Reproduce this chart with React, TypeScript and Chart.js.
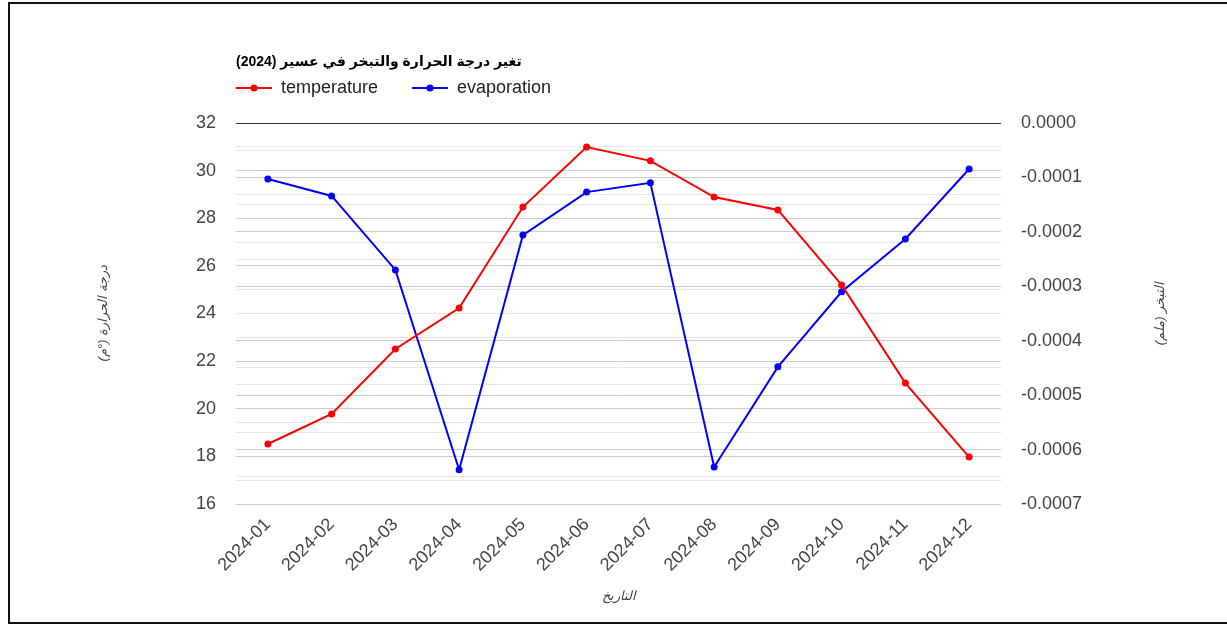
import React, { useEffect, useRef } from "react";
import { Chart, registerables } from "chart.js";

Chart.register(...registerables);

const months = [
  "2024-01", "2024-02", "2024-03", "2024-04", "2024-05", "2024-06",
  "2024-07", "2024-08", "2024-09", "2024-10", "2024-11", "2024-12",
];
const temperature = [18.52, 19.78, 22.51, 24.23, 28.47, 30.99, 30.41, 28.89, 28.35, 25.2, 21.08, 17.97];
const evaporation = [
  -0.000103, -0.000134, -0.00027, -0.000637, -0.000206, -0.000127,
  -0.00011, -0.000632, -0.000448, -0.00031, -0.000213, -0.0000845,
];
const seriesNames = ["temperature", "evaporation"];
const seriesColors = ["#ff0000", "#0000ff"];
const chartTitle = "تغير درجة الحرارة والتبخر في عسير (2024)";
const leftAxisTitle = "درجة الحرارة (°م)";
const rightAxisTitle = "التبخر (ملم)";
const xAxisTitle = "التاريخ";
const tempMin = 16;
const tempMax = 32;
const evapMin = -0.0007;
const evapMax = 0;

const FONT = "'Liberation Sans', Arial, 'DejaVu Sans', sans-serif";

const overlayPlugin = {
  id: "overlay",
  afterDraw(chart: any) {
    const ctx = chart.ctx as CanvasRenderingContext2D;
    const area = chart.chartArea;
    ctx.save();
    // title
    ctx.font = `bold 14px ${FONT}`;
    ctx.fillStyle = "#000";
    ctx.textBaseline = "middle";
    (ctx as any).direction = "rtl";
    ctx.textAlign = "left";
    ctx.fillText(chartTitle, area.left, 62);
    (ctx as any).direction = "ltr";

    // legend
    const legendY = 88;
    const items = [
      { x: area.left, name: seriesNames[0], color: seriesColors[0] },
      { x: area.left + 176, name: seriesNames[1], color: seriesColors[1] },
    ];
    for (const it of items) {
      ctx.strokeStyle = it.color;
      ctx.lineWidth = 2;
      ctx.beginPath();
      ctx.moveTo(it.x, legendY);
      ctx.lineTo(it.x + 36, legendY);
      ctx.stroke();
      ctx.fillStyle = it.color;
      ctx.beginPath();
      ctx.arc(it.x + 18, legendY, 3.5, 0, Math.PI * 2);
      ctx.fill();
      ctx.fillStyle = "#222";
      ctx.font = `18px ${FONT}`;
      ctx.textAlign = "left";
      ctx.fillText(it.name, it.x + 45, legendY);
    }

    // axis titles
    ctx.fillStyle = "#444";
    ctx.font = `italic 13px ${FONT}`;
    ctx.textAlign = "center";
    (ctx as any).direction = "rtl";
    const midY = (area.top + area.bottom) / 2;
    ctx.save();
    ctx.translate(103, midY);
    ctx.rotate(-Math.PI / 2);
    ctx.fillText(leftAxisTitle, 0, 0);
    ctx.restore();
    ctx.save();
    ctx.translate(1160, midY);
    ctx.rotate(-Math.PI / 2);
    ctx.fillText(rightAxisTitle, 0, 0);
    ctx.restore();
    ctx.fillText(xAxisTitle, (area.left + area.right) / 2, 596);
    ctx.restore();
  },
};

export default function App() {
  const ref = useRef<HTMLCanvasElement | null>(null);

  useEffect(() => {
    if (!ref.current) return;
    const chart = new Chart(ref.current, {
      type: "line",
      data: {
        labels: months,
        datasets: [
          {
            label: seriesNames[0],
            data: temperature,
            borderColor: seriesColors[0],
            backgroundColor: seriesColors[0],
            borderWidth: 2,
            pointRadius: 3.5,
            pointBorderWidth: 0,
            yAxisID: "y",
            tension: 0,
          },
          {
            label: seriesNames[1],
            data: evaporation,
            borderColor: seriesColors[1],
            backgroundColor: seriesColors[1],
            borderWidth: 2,
            pointRadius: 3.5,
            pointBorderWidth: 0,
            yAxisID: "y2",
            tension: 0,
          },
        ],
      },
      options: {
        responsive: false,
        animation: false,
        layout: { padding: { top: 123, left: 0, right: 0, bottom: 0 } },
        plugins: {
          legend: { display: false },
          title: { display: false },
          tooltip: { enabled: false },
        },
        scales: {
          x: {
            type: "category",
            offset: true,
            grid: { display: false },
            border: { display: false },
            ticks: {
              autoSkip: false,
              maxRotation: 45,
              minRotation: 45,
              padding: 2,
              color: "#444",
              font: { size: 18, family: FONT },
            },
            afterFit: (s: any) => {
              s.height = 122;
            },
          },
          y: {
            position: "left",
            min: tempMin,
            max: tempMax,
            border: { display: false },
            grid: {
              drawTicks: false,
              color: (c: any) => {
                const v = c.tick ? c.tick.value : 0;
                if (v === tempMax) return "#333";
                return v % 2 === 0 ? "#cccccc" : "#e6e6e6";
              },
            },
            ticks: {
              stepSize: 1,
              autoSkip: false,
              padding: 20,
              color: "#444",
              font: { size: 18, family: FONT },
              callback: (v: any) => (Number(v) % 2 === 0 ? String(v) : ""),
            },
            afterFit: (s: any) => {
              s.width = 236;
            },
          },
          y2: {
            position: "right",
            min: evapMin,
            max: evapMax,
            border: { display: false },
            grid: {
              drawTicks: false,
              color: (c: any) => {
                const v = c.tick ? c.tick.value : 0;
                if (Math.abs(v) < 1e-9) return "#333";
                const k = Math.round(v / 0.00005);
                return k % 2 === 0 ? "#cccccc" : "#e6e6e6";
              },
            },
            ticks: {
              stepSize: 0.00005,
              autoSkip: false,
              padding: 20,
              color: "#444",
              font: { size: 18, family: FONT },
              callback: (v: any) => {
                const k = Math.round(Number(v) / 0.00005);
                if (k % 2 !== 0) return "";
                const val = k * 0.00005;
                return Math.abs(val) < 1e-9 ? "0.0000" : val.toFixed(4);
              },
            },
            afterFit: (s: any) => {
              s.width = 226;
            },
          },
        },
      },
      plugins: [overlayPlugin],
    });
    return () => chart.destroy();
  }, []);

  return (
    <>
      <div
        style={{
          position: "fixed",
          left: 8,
          top: 2,
          width: 1260,
          height: 622,
          border: "2px solid #111",
          boxSizing: "border-box",
          background: "#fff",
        }}
      />
      <canvas
        ref={ref}
        width={1227}
        height={626}
        style={{ position: "fixed", left: 0, top: 0, width: 1227, height: 626 }}
      />
    </>
  );
}
